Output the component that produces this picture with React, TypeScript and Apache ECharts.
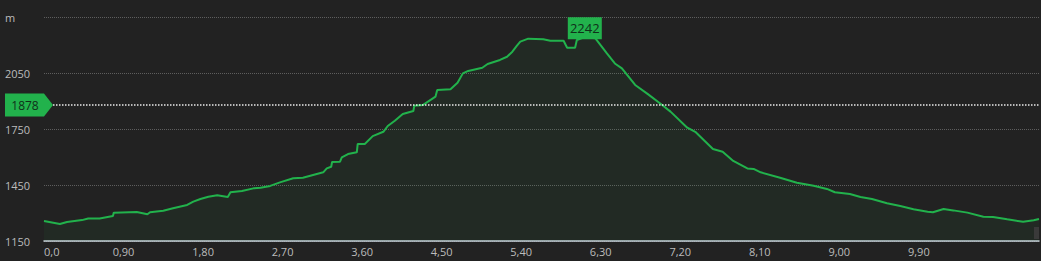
import React, { useEffect, useRef } from "react";
import * as echarts from "echarts";

const distances = [
  0, 0.18, 0.26, 0.43, 0.5, 0.63, 0.78, 0.79, 1.05, 1.17, 1.2, 1.35, 1.46, 1.62, 1.69, 1.77, 1.86,
  1.96, 2.08, 2.11, 2.24, 2.37, 2.45, 2.56, 2.67, 2.82, 2.93, 3.16, 3.2, 3.25, 3.26, 3.35, 3.37,
  3.44, 3.54, 3.55, 3.63, 3.72, 3.84, 3.89, 3.97, 4.06, 4.18, 4.19, 4.29, 4.43, 4.45, 4.6, 4.68,
  4.74, 4.8, 4.96, 5.02, 5.16, 5.24, 5.3, 5.35, 5.39, 5.48, 5.65, 5.73, 5.88, 5.92, 6.01, 6.03,
  6.12, 6.24, 6.37, 6.46, 6.54, 6.69, 6.83, 6.97, 7.09, 7.28, 7.37, 7.57, 7.68, 7.8, 7.96, 8.03,
  8.11, 8.33, 8.52, 8.71, 8.86, 8.95, 9.12, 9.24, 9.37, 9.54, 9.69, 9.84, 10.0, 10.06, 10.18,
  10.29, 10.45, 10.63, 10.74, 10.9, 11.08, 11.2, 11.26,
];

const elevations = [
  1257, 1241, 1252, 1262, 1271, 1271, 1284, 1302, 1305, 1293, 1304, 1312, 1325, 1343, 1361, 1375,
  1387, 1395, 1386, 1411, 1418, 1432, 1435, 1445, 1464, 1486, 1489, 1518, 1539, 1548, 1573, 1575,
  1598, 1616, 1625, 1670, 1670, 1712, 1735, 1766, 1794, 1830, 1846, 1875, 1879, 1923, 1959, 1963,
  1998, 2048, 2061, 2078, 2098, 2120, 2137, 2164, 2195, 2218, 2234, 2231, 2223, 2223, 2185, 2185,
  2227, 2242, 2236, 2155, 2101, 2075, 1986, 1938, 1888, 1843, 1757, 1735, 1643, 1628, 1579, 1539,
  1536, 1518, 1489, 1462, 1446, 1429, 1411, 1402, 1386, 1375, 1352, 1337, 1320, 1307, 1304, 1321,
  1314, 1302, 1280, 1279, 1266, 1253, 1261, 1268,
];

const referenceElevation = 1878;
const yMin = 1150;
const yMax = 2350;
const yInterval = 300;
const xMax = 11.26;
const xInterval = 0.9;
const hiddenXTicks = [10.8];

const GREEN = "#22b24c";

export default function App() {
  const ref = useRef<HTMLDivElement>(null);

  useEffect(() => {
    document.body.style.margin = "0";
    const chart = echarts.init(ref.current!, null, { renderer: "svg" });
    const data = distances.map((d, i) => [d, elevations[i]]);
    chart.setOption({
      animation: false,
      backgroundColor: "#222222",
      textStyle: { fontFamily: "'Open Sans', 'Noto Sans', sans-serif" },
      grid: { left: 44, right: 2, top: 17, bottom: 20, containLabel: false },
      xAxis: {
        type: "value",
        min: 0,
        max: xMax,
        interval: xInterval,
        axisLine: { show: true, lineStyle: { color: "#c9d3dc", width: 1.5 } },
        axisTick: { show: false },
        splitLine: { show: false },
        axisLabel: {
          color: "#bcbcbc",
          fontSize: 11,
          margin: 5,
          showMaxLabel: false,
          alignMinLabel: "left",
          formatter: (v: number) => {
            if (v === 0) return "0,0";
            if (hiddenXTicks.some((h) => Math.abs(h - v) < 1e-6)) return "";
            return v.toFixed(2).replace(".", ",");
          },
        },
      },
      yAxis: {
        type: "value",
        min: yMin,
        max: yMax,
        interval: yInterval,
        axisLine: { show: false },
        axisTick: { show: false },
        splitLine: { show: true, lineStyle: { color: "#5e5e5e", type: "dotted", width: 1 } },
        axisLabel: {
          color: "#bcbcbc",
          fontSize: 11,
          align: "left",
          margin: 39,
          formatter: (v: number) => (v === yMax ? "m" : String(v)),
        },
      },
      series: [
        {
          type: "line",
          data,
          symbol: "none",
          lineStyle: { color: GREEN, width: 2 },
          areaStyle: { color: "rgba(40,170,80,0.09)" },
          markLine: {
            silent: true,
            symbol: "none",
            label: { show: false },
            lineStyle: { color: "#ffffff", type: "dotted", width: 1.5, opacity: 0.9 },
            data: [{ yAxis: referenceElevation }],
          },
          markPoint: {
            symbol: "rect",
            symbolSize: [34, 22],
            symbolOffset: [0, -9],
            itemStyle: { color: GREEN },
            label: {
              show: true,
              color: "#10301a",
              fontSize: 13,
              formatter: (p: any) => String(p.value),
            },
            data: [{ type: "max" }],
          },
        },
      ],
    });

    const y = chart.convertToPixel({ yAxisIndex: 0 }, referenceElevation) as number;
    chart.setOption({
      graphic: [
        {
          type: "polygon",
          shape: {
            points: [
              [5, y - 11.5],
              [44, y - 11.5],
              [53, y],
              [44, y + 11.5],
              [5, y + 11.5],
            ],
          },
          style: { fill: GREEN },
          z: 100,
        },
        {
          type: "text",
          x: 25,
          y: y,
          style: {
            text: String(referenceElevation),
            fill: "#10301a",
            fontSize: 12,
            fontFamily: "'Open Sans', 'Noto Sans', sans-serif",
            align: "center",
            verticalAlign: "middle",
          },
          z: 101,
        },
        {
          type: "rect",
          shape: { x: 1034, y: 227, width: 5, height: 12 },
          style: { fill: "#3a3a3a" },
          z: 100,
        },
      ],
    });

    return () => chart.dispose();
  }, []);

  return <div ref={ref} style={{ width: 1041, height: 261 }} />;
}
